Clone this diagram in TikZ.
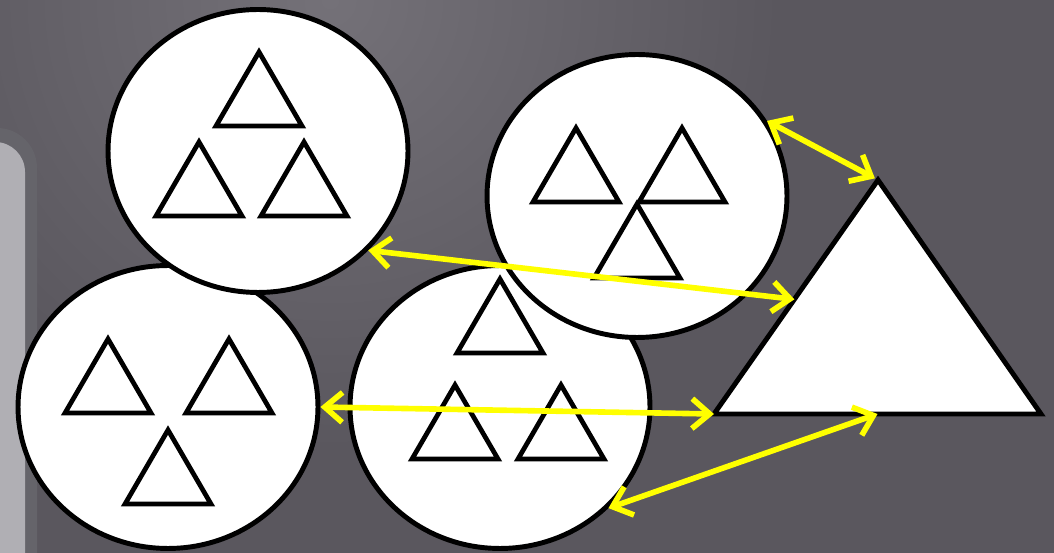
\documentclass[tikz,border=0pt]{standalone}
\usepackage{xcolor}
\usepackage{tikz}
\usetikzlibrary{arrows.meta,shapes.geometric,calc}
\definecolor{slate}     {RGB}{ 90, 87, 94}
\definecolor{slateglow} {RGB}{116,113,120}
\definecolor{panelgray} {RGB}{176,175,180}
\definecolor{panelrim}  {RGB}{101,100,106}
\definecolor{linkyellow}{RGB}{255,255,  0}

\newcommand{\smalltri}[2]{\draw[tri] (#1,#2) ++(-43,0) -- ++(86,0) -- ++(-43,-74) -- cycle;}

\begin{document}
\begin{tikzpicture}[x=0.02cm,y=-0.02cm,
    disc/.style={ellipse,draw=black,fill=white,line width=2.8pt,inner sep=0pt,
                 minimum width=6cm,minimum height=5.66cm},
    tri/.style={draw=black,fill=white,line width=2.7pt},
    link/.style={linkyellow,line width=3.2pt,
                 {Straight Barb[length=10pt,width=17pt]}-{Straight Barb[length=10pt,width=17pt]}}]
      \useasboundingbox (0,0) rectangle (1054,553);
      \fill[slate] (0,0) rectangle (1054,553);
      \begin{scope}
        \clip (0,0) rectangle (1054,553);
        \shade[inner color=slateglow,outer color=slate] (330,0) circle (9cm);
        \fill[panelrim,rounded corners=0.8cm]  (-40,128) rectangle (37,620);
        \fill[panelgray,rounded corners=0.6cm] (-40,142) rectangle (25,620);
      \end{scope}

      \node[disc] (bl) at (168,407) {};
      \smalltri{108}{413} \smalltri{229}{413} \smalltri{168}{504}
      \node[disc] (tl) at (258,151) {};
      \smalltri{259}{126} \smalltri{199}{216} \smalltri{304}{216}
      \node[disc] (bc) at (500,407) {};
      \smalltri{500}{353} \smalltri{455}{459} \smalltri{561}{459}
      \node[disc] (tr) at (637,196) {};
      \smalltri{576}{202} \smalltri{682}{202} \smalltri{637}{278}

      \coordinate (tri-l) at (714,414);
      \coordinate (tri-r) at (1041,414);
      \coordinate (tri-t) at (878,180);
      \coordinate (tri-b) at ($(tri-l)!0.5!(tri-r)$);
      \coordinate (tri-side) at ($(tri-l)!0.49!(tri-t)$);
      \draw[black,fill=white,line width=2.8pt] (tri-l) -- (tri-r) -- (tri-t) -- cycle;

      \draw[link,shorten >=2pt] (tr.30) -- (tri-t);
      \draw[link] (tl.-42) -- (tri-side);
      \draw[link] (bl.east) -- (tri-l);
      \draw[link] (bc.-43) -- (tri-b);
    \end{tikzpicture}
\end{document}
